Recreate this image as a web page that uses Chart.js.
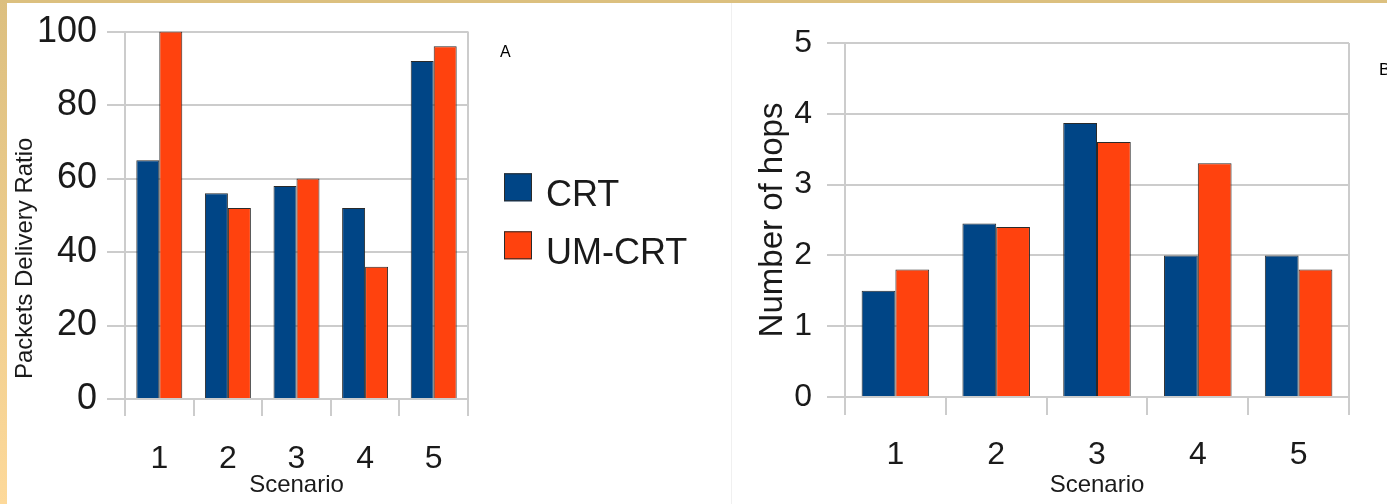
<!DOCTYPE html>
<html>
<head>
<meta charset="utf-8">
<script src="https://cdn.jsdelivr.net/npm/chart.js@4"></script>
<style>
  html, body { margin: 0; padding: 0; background: #fff; }
  body { width: 1387px; height: 504px; position: relative; overflow: hidden; font-family: 'Liberation Sans', Arial, sans-serif; }
  canvas { position: absolute; top: 0; }
  #pdrChart { left: 0; }
  #hopsChart { left: 700px; }
  .edge-top { position: absolute; left: 0; top: 0; width: 1387px; height: 3px; background: #dcc07f; z-index: 5; }
  .edge-left { position: absolute; left: 0; top: 0; width: 7px; height: 504px; background: linear-gradient(#dcbf7f, #fdd99a); z-index: 5; }
  .divider { position: absolute; left: 731px; top: 3px; width: 1px; height: 501px; background: #f0f0f0; }
  .panel-tag { position: absolute; color: #000; z-index: 4; }
</style>
</head>
<body>
<div class="divider"></div>
<canvas id="pdrChart" width="700" height="504"></canvas>
<canvas id="hopsChart" width="687" height="504"></canvas>
<div class="panel-tag" style="left:500px; top:43px; font-size:16px;">A</div>
<div class="panel-tag" style="left:1379px; top:60px; font-size:17px;">B</div>
<div class="edge-top"></div>
<div class="edge-left"></div>
<script>
Chart.defaults.font.family = "'Liberation Sans', Arial, sans-serif"
Chart.defaults.color = '#1a1a1a'
Chart.defaults.animation = false

const scenarios = ['1', '2', '3', '4', '5']
const seriesNames = ['CRT', 'UM-CRT']
const seriesColors = ['#004586', '#ff420e']

// packets delivery ratio (%)
const pdrCrt = [65, 56, 58, 52, 92]
const pdrUmCrt = [100, 52, 60, 36, 96]

// average number of hops
const hopsCrt = [1.5, 2.45, 3.87, 2.0, 2.0]
const hopsUmCrt = [1.8, 2.4, 3.6, 3.3, 1.8]

const gridGray = '#cccccc'

const makeDatasets = (a, b) => [a, b].map((values, i) => ({
    label: seriesNames[i],
    data: values,
    backgroundColor: seriesColors[i],
    borderColor: '#2a2a2a',
    borderWidth: 1,
    categoryPercentage: 0.67,
    barPercentage: 1
}))

// vertical lines only at the plot frame, tick marks at every boundary
const frameOnly = (c) => (c.type === 'scale' || c.index === 0) ? gridGray : 'transparent'

const xAxis = (height, tickLen, pad) => ({
    offset: true,
    afterFit: (scale) => { scale.height = height },
    grid: { offset: true, color: frameOnly, tickColor: gridGray, lineWidth: 2, tickLength: tickLen },
    border: { display: false },
    ticks: { font: { size: 32 }, padding: pad, maxRotation: 0 },
    title: { display: true, text: 'Scenario', font: { size: 24 }, padding: { top: 0, bottom: 4 } }
})

// legend to the right of the plot, like the office chart it comes from
const sideLegend = {
    id: 'sideLegend',
    afterDraw: (chart) => {
        const { ctx, chartArea } = chart
        const mid = (chartArea.top + chartArea.bottom) / 2
        ctx.save()
        ctx.font = "36px 'Liberation Sans', Arial, sans-serif"
        ctx.textBaseline = 'alphabetic'
        chart.data.datasets.forEach((ds, i) => {
            const x = chartArea.right + 36
            const y = mid - 42 + i * 58
            ctx.fillStyle = ds.backgroundColor
            ctx.fillRect(x, y, 28, 28)
            ctx.strokeStyle = ds.borderColor
            ctx.lineWidth = 1
            ctx.strokeRect(x + 0.5, y + 0.5, 27, 27)
            ctx.fillStyle = '#1a1a1a'
            ctx.fillText(ds.label, x + 42, y + 33)
        })
        ctx.restore()
    }
}

const renderPdrChart = () => {
    new Chart(document.getElementById('pdrChart'), {
        type: 'bar',
        data: { labels: scenarios, datasets: makeDatasets(pdrCrt, pdrUmCrt) },
        options: {
            responsive: false,
            layout: { padding: { top: 29, right: 232, bottom: 0, left: 0 } },
            plugins: {
                tooltip: { enabled: false },
                legend: { display: false }
            },
            scales: {
                x: xAxis(105, 17, 24),
                y: {
                    min: 0,
                    max: 100,
                    afterFit: (scale) => { scale.width = 125 },
                    grid: { color: gridGray, lineWidth: 2, tickLength: 18 },
                    border: { color: gridGray, width: 2 },
                    ticks: { stepSize: 20, font: { size: 36 }, padding: 10 },
                    title: {
                        display: true,
                        align: 'start',
                        text: '   Packets Delivery Ratio',
                        font: { size: 24 },
                        padding: { top: 11, bottom: 0 }
                    }
                }
            }
        },
        plugins: [sideLegend]
    })
}

const renderHopsChart = () => {
    new Chart(document.getElementById('hopsChart'), {
        type: 'bar',
        data: { labels: scenarios, datasets: makeDatasets(hopsCrt, hopsUmCrt) },
        options: {
            responsive: false,
            layout: { padding: { top: 43, right: 38, bottom: 0, left: 0 } },
            plugins: {
                tooltip: { enabled: false },
                legend: { display: false }
            },
            scales: {
                x: xAxis(107, 18, 21),
                y: {
                    min: 0,
                    max: 5,
                    afterFit: (scale) => { scale.width = 145 },
                    grid: { color: gridGray, lineWidth: 2, tickLength: 18 },
                    border: { color: gridGray, width: 2 },
                    ticks: { stepSize: 1, font: { size: 32 }, padding: 15 },
                    title: {
                        display: true,
                        text: 'Number of hops',
                        font: { size: 33 },
                        padding: { top: 53, bottom: 0 }
                    }
                }
            }
        }
    })
}

document.addEventListener('DOMContentLoaded', () => {
    renderPdrChart()
    renderHopsChart()
})
</script>
</body>
</html>
